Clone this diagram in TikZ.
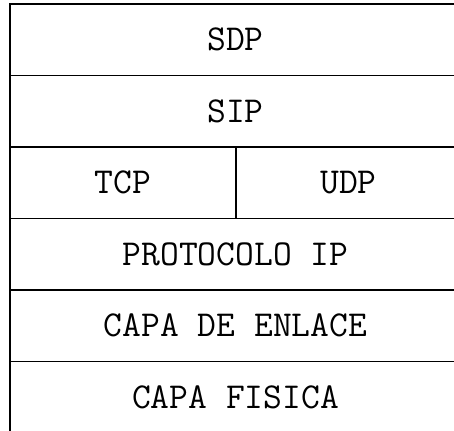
\documentclass[tikz,border=0pt]{standalone}
\usetikzlibrary{positioning}
\tikzset{layer/.style={draw, line width=1.4pt, minimum height=71.5pt, inner sep=0pt, outer sep=0pt,
    font=\ttfamily\fontsize{36.5}{36.5}\selectfont}}

\begin{document}
\begin{tikzpicture}[x=1pt,y=1pt]
\useasboundingbox (0,0) rectangle (454,-430);
% protocol stack, top to bottom
\node[layer, minimum width=451pt, anchor=north west] (sdp) at (10,-4) {SDP};
\node[layer, minimum width=451pt, below=0pt of sdp] (sip) {SIP};
\node[layer, minimum width=226pt, anchor=north west] (tcp) at (sip.south west) {TCP};
\node[layer, minimum width=225pt, right=0pt of tcp] (udp) {UDP};
\node[layer, minimum width=451pt, anchor=north west] (ip) at (tcp.south west) {PROTOCOLO IP};
\node[layer, minimum width=451pt, below=0pt of ip] (enlace) {CAPA DE ENLACE};
\node[layer, minimum width=451pt, below=0pt of enlace] (fisica) {CAPA FISICA};
\end{tikzpicture}
\end{document}
